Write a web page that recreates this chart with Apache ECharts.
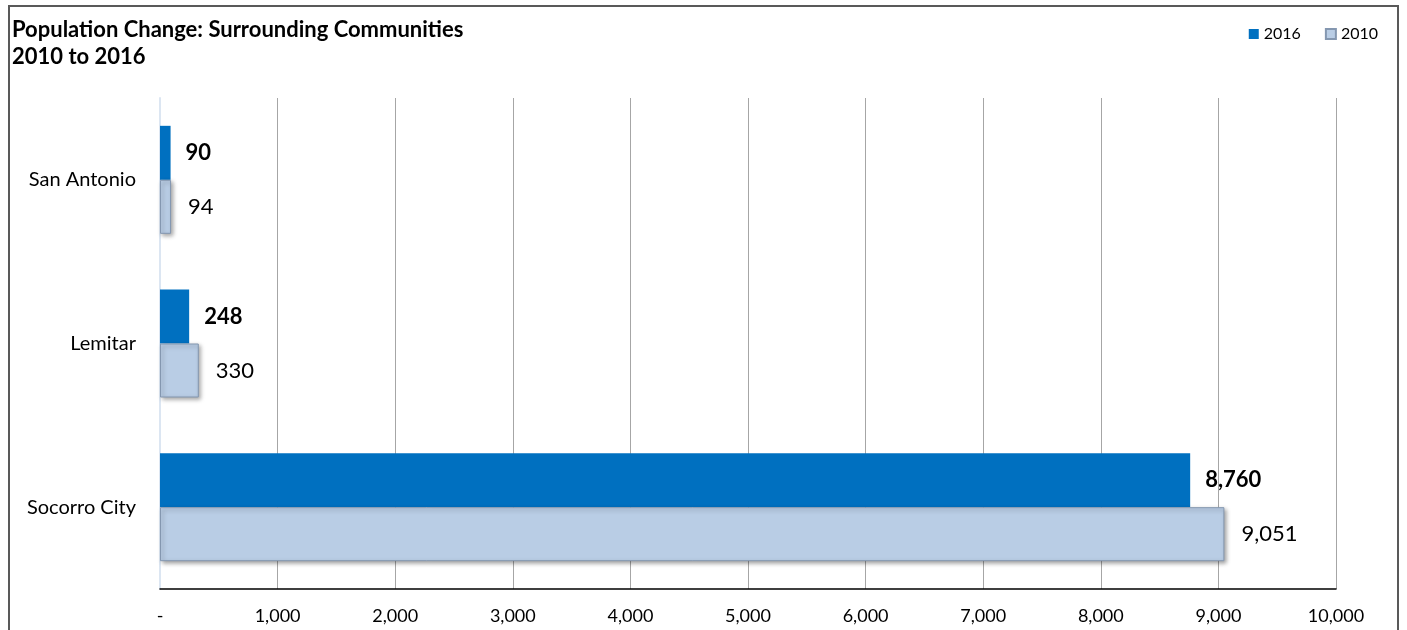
<!DOCTYPE html>
<html>
<head>
<meta charset="utf-8">
<script src="https://cdn.jsdelivr.net/npm/echarts@6/dist/echarts.min.js"></script>
<style>
  html, body { margin: 0; padding: 0; background: #fff; }
  #chart { width: 1407px; height: 630px; }
</style>
</head>
<body>
<div id="chart"></div>
<script>
// Communities, listed top to bottom
const communities = ['San Antonio', 'Lemitar', 'Socorro City'];
const pop2016 = [90, 248, 8760];
const pop2010 = [94, 330, 9051];
const seriesNames = ['2016', '2010'];
const titleLines = ['Population Change: Surrounding Communities', '2010 to 2016'];

const font = 'Lato, "Open Sans", "Liberation Sans", sans-serif';

const fmt = v => v === 0 ? '-' : v.toLocaleString('en-US');

const chart = echarts.init(document.getElementById('chart'), null, { renderer: 'canvas' });

chart.setOption({
  animation: false,
  backgroundColor: '#ffffff',
  title: {
    text: titleLines.join('\n'),
    left: 7,
    top: 11,
    textStyle: {
      fontFamily: font,
      fontSize: 22,
      fontWeight: 'bold',
      color: '#000',
      lineHeight: 27
    }
  },
  legend: {
    data: seriesNames,
    icon: 'rect',
    right: 24,
    top: 21,
    itemWidth: 10,
    itemHeight: 10,
    itemGap: 24,
    textStyle: { fontFamily: font, fontSize: 16, color: '#000' }
  },
  grid: {
    left: 160,
    right: 71,
    top: 98,
    bottom: 41,
    containLabel: false
  },
  xAxis: {
    type: 'value',
    min: 0,
    max: 10000,
    interval: 1000,
    axisLine: { show: true, lineStyle: { color: '#000', width: 1.5 } },
    axisTick: { show: false },
    splitLine: { show: true, lineStyle: { color: '#a6a6a6', width: 1 } },
    axisLabel: {
      formatter: fmt,
      fontFamily: font,
      fontSize: 18,
      color: '#000',
      margin: 18
    }
  },
  yAxis: {
    type: 'category',
    data: communities,
    inverse: true,
    axisLine: { show: true, lineStyle: { color: '#dce6f2', width: 2 } },
    axisTick: { show: false },
    axisLabel: {
      fontFamily: font,
      fontSize: 20,
      color: '#000',
      margin: 24
    }
  },
  series: [
    {
      name: seriesNames[0],
      type: 'bar',
      data: pop2016,
      barCategoryGap: '34%',
      barGap: '0%',
      itemStyle: { color: '#0070c0' },
      label: {
        show: true,
        position: 'right',
        distance: 15,
        formatter: p => fmt(p.value),
        fontFamily: font,
        fontSize: 22,
        fontWeight: 'bold',
        color: '#000'
      }
    },
    {
      name: seriesNames[1],
      type: 'bar',
      data: pop2010,
      barCategoryGap: '34%',
      barGap: '0%',
      itemStyle: {
        color: '#b9cde5',
        borderColor: '#8497b0',
        borderWidth: 1,
        shadowColor: 'rgba(0,0,0,0.35)',
        shadowBlur: 4,
        shadowOffsetX: 2,
        shadowOffsetY: 2
      },
      label: {
        show: true,
        position: 'right',
        distance: 17,
        formatter: p => fmt(p.value),
        fontFamily: font,
        fontSize: 22,
        color: '#000'
      }
    }
  ],
  graphic: [
    {
      type: 'rect',
      silent: true,
      shape: { x: 9, y: 6, width: 1389, height: 640 },
      style: { fill: 'none', stroke: '#595959', lineWidth: 2 }
    }
  ]
});
</script>
</body>
</html>
